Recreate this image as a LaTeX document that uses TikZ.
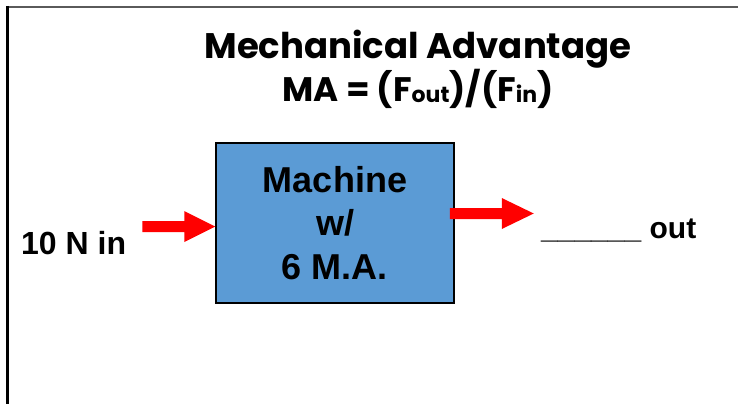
\documentclass[tikz,border=0pt]{standalone}
\usepackage{fontspec}
\setmainfont{Liberation Sans}
\newfontfamily\titlefont{Poppins}
\usetikzlibrary{calc}
\definecolor{boxblue}{RGB}{91,155,213}
\definecolor{arrowred}{RGB}{255,0,0}
\definecolor{framegray}{RGB}{90,90,90}
\tikzset{
  machinebox/.style={draw=black, line width=1.5pt, fill=boxblue, minimum width=238pt,
    minimum height=160pt, inner sep=0pt, align=center,
    font=\bfseries\fontsize{36}{43.5}\selectfont},
  titletext/.style={inner sep=0pt, anchor=base, font=\titlefont\bfseries\fontsize{34}{38}\selectfont},
  sidelabel/.style={inner sep=0pt, anchor=base west, font=\bfseries\fontsize{30}{36}\selectfont},
  forcearrow/.style={fill=arrowred, draw=none}
}
\newcommand{\subtxt}[1]{\raisebox{-1.5pt}{\fontsize{22}{22}\selectfont #1}}
\begin{document}
\begin{tikzpicture}[x=1pt,y=-1pt]
\useasboundingbox (0,0) rectangle (738,404);
% frame
\draw[framegray, line width=2.5pt] (6,7) -- (738,7);
\draw[black, line width=3pt] (7,6) -- (7,404);
% title
\node[titletext, font=\titlefont\bfseries\fontsize{35.5}{40}\selectfont] (t1) at (418,59) {Mechanical Advantage};
\node[titletext] (t2) at (418,101) {MA = (F\subtxt{out})/(F\subtxt{in})};
% machine
\node[machinebox] (m) at (335,223) {Machine\\w/\\6 M.A.};
% labels
\node[sidelabel, font=\bfseries\fontsize{32}{36}\selectfont] (in) at (21,254) {10 N in};
\node[sidelabel] (out) at (541,238) {\_\_\_\_\_\_ out};
% arrows
\coordinate (intip) at ($(m.west)+(0,3.5)$);
\coordinate (outtail) at ($(m.east)+(-5,-9.5)$);
\fill[forcearrow] ($(intip)+(-73,-5.5)$) -- ($(intip)+(-31,-5.5)$) -- ($(intip)+(-31,-15.5)$)
  -- (intip) -- ($(intip)+(-31,15.5)$) -- ($(intip)+(-31,5.5)$) -- ($(intip)+(-73,5.5)$) -- cycle;
\fill[forcearrow] ($(outtail)+(0,-5.5)$) -- ($(outtail)+(52,-5.5)$) -- ($(outtail)+(52,-15.5)$)
  -- ($(outtail)+(84,0)$) -- ($(outtail)+(52,15.5)$) -- ($(outtail)+(52,5.5)$) -- ($(outtail)+(0,5.5)$) -- cycle;
\end{tikzpicture}
\end{document}
